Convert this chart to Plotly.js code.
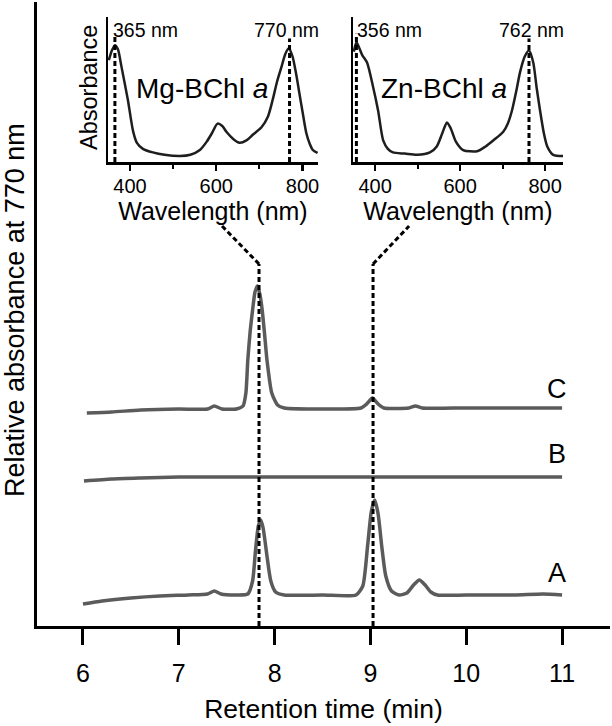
<!DOCTYPE html>
<html>
<head>
<meta charset="utf-8">
<script src="https://cdn.plot.ly/plotly-3.0.1.min.js"></script>
<style>html,body{margin:0;padding:0;background:#fff}#chart{width:612px;height:726px}</style>
</head>
<body>
<div id="chart"></div>
<script>
// ---------- Data ----------
// Chromatograms, retention time (min) vs relative absorbance at 770 nm (arbitrary units)
const timeA = [6.0, 6.2, 6.5, 6.8, 7.1, 7.3, 7.37, 7.44, 7.6, 7.72, 7.77, 7.80, 7.83, 7.855, 7.88, 7.92, 7.96, 8.01, 8.1, 8.5, 8.85, 8.92, 8.97, 9.01, 9.045, 9.08, 9.12, 9.16, 9.22, 9.3, 9.38, 9.45, 9.51, 9.57, 9.63, 9.7, 10.0, 10.5, 10.8, 11.0];
const absA  = [22, 25, 28, 30, 31, 32, 35, 32, 31, 32, 45, 75, 100, 106, 98, 70, 45, 34, 31, 31, 31, 40, 80, 115, 126, 112, 78, 50, 35, 31, 33, 41, 46, 41, 34, 31, 31, 31, 32, 31];

const timeB = [6.01, 6.3, 6.6, 7.0, 7.5, 8.0, 8.5, 9.0, 9.5, 10.0, 10.5, 11.0];
const absB  = [145, 147, 148, 149, 149, 149, 149, 149, 149, 149, 149, 149];

const timeC = [6.04, 6.3, 6.6, 7.0, 7.3, 7.37, 7.45, 7.6, 7.67, 7.70, 7.72, 7.745, 7.77, 7.795, 7.82, 7.845, 7.87, 7.895, 7.92, 7.97, 8.03, 8.1, 8.5, 8.9, 8.96, 9.02, 9.08, 9.14, 9.4, 9.47, 9.54, 10.0, 10.5, 11.0];
const absC  = [213, 214, 216, 217, 217, 220, 217, 217, 220, 233, 266, 295, 316, 334, 340, 332, 316, 292, 266, 233, 221, 218, 217, 218, 222, 228, 222, 218, 218, 220, 218, 218, 218, 218];

const traceLabels = ["A", "B", "C"];
const timeTicks = [6, 7, 8, 9, 10, 11];

// Peak retention times of Mg-BChl a and Zn-BChl a (dotted guide lines)
const peakTimes = [7.837, 9.027];

// Absorption spectra (wavelength nm vs normalised absorbance)
const wlMg  = [351, 358, 365, 372, 380, 395, 407, 416, 430, 453, 480, 516, 540, 562, 578, 590, 603, 614, 624, 640, 654, 670, 684, 705, 720, 731, 741, 751, 760, 768, 777, 785, 793, 801, 809, 817, 824, 835];
const absMg = [0.85, 0.93, 0.975, 0.94, 0.80, 0.52, 0.26, 0.16, 0.11, 0.08, 0.06, 0.05, 0.06, 0.10, 0.17, 0.24, 0.32, 0.30, 0.25, 0.19, 0.16, 0.18, 0.225, 0.29, 0.38, 0.52, 0.67, 0.79, 0.90, 0.95, 0.88, 0.74, 0.57, 0.40, 0.24, 0.15, 0.10, 0.075];

const wlZn  = [350, 356, 363, 370, 381, 395, 407, 419, 430, 442, 470, 499, 529, 545, 558, 569, 578, 590, 607, 640, 660, 678, 701, 712, 722, 732, 741, 752, 762, 772, 780, 788, 797, 805, 819, 842];
const absZn = [0.92, 1.0, 0.95, 0.89, 0.83, 0.63, 0.43, 0.18, 0.11, 0.08, 0.07, 0.06, 0.08, 0.13, 0.24, 0.33, 0.28, 0.17, 0.10, 0.09, 0.13, 0.18, 0.25, 0.32, 0.43, 0.59, 0.75, 0.88, 0.93, 0.83, 0.62, 0.43, 0.24, 0.13, 0.06, 0.05];

const mgPeaks = [365, 770];
const znPeaks = [356, 762];
const wlTicks = [400, 600, 800];

// ---------- Layout helpers ----------
const W = 612, H = 726;
const PX = x => x / W;
const PY = y => 1 - y / H;
const FONT = "Liberation Sans, Arial, Helvetica, sans-serif";

const mainLine = {color: "#5b5b5b", width: 3.5, shape: "spline", smoothing: 0.6};
const specLine = {color: "#1e1e1e", width: 2.5, shape: "spline", smoothing: 0.7};

const traces = [
  {x: timeA, y: absA, mode: "lines", line: mainLine, xaxis: "x", yaxis: "y", hoverinfo: "skip"},
  {x: timeB, y: absB, mode: "lines", line: mainLine, xaxis: "x", yaxis: "y", hoverinfo: "skip"},
  {x: timeC, y: absC, mode: "lines", line: mainLine, xaxis: "x", yaxis: "y", hoverinfo: "skip"},
  {x: wlMg, y: absMg, mode: "lines", line: specLine, xaxis: "x2", yaxis: "y2", hoverinfo: "skip"},
  {x: wlZn, y: absZn, mode: "lines", line: specLine, xaxis: "x3", yaxis: "y3", hoverinfo: "skip"}
];

const dotted = {color: "#000", width: 3, dash: "5px,3px"};
const shapes = [];
// main guide lines: vertical at the peak times and slanted connectors to the insets
const bendV = 362, topV = 400;
const slantTopT = [7.451, 9.403];
peakTimes.forEach((t, i) => {
  shapes.push({type: "line", xref: "x", yref: "y", x0: t, x1: t, y0: 0, y1: bendV, line: dotted});
  shapes.push({type: "line", xref: "x", yref: "y", x0: t, x1: slantTopT[i], y0: bendV, y1: topV, line: dotted});
});
// inset guide lines
mgPeaks.forEach((w, i) => shapes.push({type: "line", xref: "x2", yref: "y2", x0: w, x1: w, y0: 0, y1: i === 0 ? 1.07 : 1.03, line: dotted}));
znPeaks.forEach((w, i) => shapes.push({type: "line", xref: "x3", yref: "y3", x0: w, x1: w, y0: 0, y1: i === 0 ? 1.07 : 1.03, line: dotted}));

const labelY = [53, 172, 237];
const annotations = [];
traceLabels.forEach((lab, i) => annotations.push({
  x: 10.95, y: labelY[i], xref: "x", yref: "y", text: lab, showarrow: false,
  font: {size: 27, color: "#000", family: FONT}, xanchor: "center", yanchor: "middle"
}));
const peakLabel = (txt, xp, yp) => ({x: PX(xp), y: PY(yp), xref: "paper", yref: "paper", text: txt, showarrow: false,
  font: {size: 19.5, color: "#000", family: FONT}, xanchor: "center", yanchor: "middle"});
annotations.push(peakLabel(mgPeaks[0] + " nm", 145, 30));
annotations.push(peakLabel(mgPeaks[1] + " nm", 286, 30));
annotations.push(peakLabel(znPeaks[0] + " nm", 389, 30));
annotations.push(peakLabel(znPeaks[1] + " nm", 531, 30));
annotations.push({x: PX(202), y: PY(88), xref: "paper", yref: "paper", text: "Mg-BChl <i>a</i>", showarrow: false,
  font: {size: 28, color: "#000", family: FONT}, xanchor: "center", yanchor: "middle"});
annotations.push({x: PX(444), y: PY(88), xref: "paper", yref: "paper", text: "Zn-BChl <i>a</i>", showarrow: false,
  font: {size: 28, color: "#000", family: FONT}, xanchor: "center", yanchor: "middle"});
annotations.push({x: PX(15), y: PY(310), xref: "paper", yref: "paper", text: "Relative absorbance at 770 nm", showarrow: false,
  textangle: -90, font: {size: 27, color: "#000", family: FONT}, xanchor: "center", yanchor: "middle", borderpad: 0});
annotations.push({x: PX(89), y: PY(88), xref: "paper", yref: "paper", text: "Absorbance", showarrow: false,
  textangle: -90, font: {size: 23.5, color: "#000", family: FONT}, xanchor: "center", yanchor: "middle"});

const insetX = (dom, range) => ({
  domain: dom, range: range, showline: true, linecolor: "#000", linewidth: 2.5, mirror: false,
  ticks: "outside", ticklen: 6, tickwidth: 2.5, tickcolor: "#000",
  tickmode: "array", tickvals: wlTicks, ticktext: wlTicks.map(String),
  minor: {tickmode: "linear", tick0: 0, dtick: 100, ticks: "outside", ticklen: 4, tickwidth: 2, tickcolor: "#000"},
  tickfont: {size: 20, color: "#000", family: FONT}, ticklabelstandoff: -2,
  title: {text: "Wavelength (nm)", font: {size: 25, color: "#000", family: FONT}, standoff: 0},
  showgrid: false, zeroline: false, fixedrange: true, automargin: false
});
const insetY = dom => ({
  domain: dom, range: [0, 1.21], showline: true, linecolor: "#000", linewidth: 2.5,
  ticks: "", showticklabels: false, showgrid: false, zeroline: false, fixedrange: true
});

const layout = {
  width: W, height: H,
  margin: {l: 0, r: 0, t: 0, b: 0},
  paper_bgcolor: "#fff", plot_bgcolor: "rgba(0,0,0,0)",
  showlegend: false,
  font: {family: FONT, color: "#000"},
  xaxis: {
    domain: [PX(37), PX(610)], range: [5.52, 11.5],
    showline: true, linecolor: "#000", linewidth: 3,
    ticks: "outside", ticklen: 16, tickwidth: 3, tickcolor: "#000",
    tickmode: "array", tickvals: timeTicks, ticktext: timeTicks.map(String),
    tickfont: {size: 25, color: "#000", family: FONT}, ticklabelstandoff: 7,
    title: {text: "Retention time (min)", font: {size: 26.5, color: "#000", family: FONT}, standoff: 14},
    showgrid: false, zeroline: false, fixedrange: true, automargin: false
  },
  yaxis: {
    domain: [PY(626), PY(2)], range: [0, 624],
    showline: true, linecolor: "#000", linewidth: 3,
    ticks: "", showticklabels: false, showgrid: false, zeroline: false, fixedrange: true
  },
  xaxis2: Object.assign(insetX([PX(108), PX(318)], [349, 836]), {anchor: "y2"}),
  yaxis2: Object.assign(insetY([PY(162), PY(17)]), {anchor: "x2"}),
  xaxis3: Object.assign(insetX([PX(353), PX(563)], [348, 842]), {anchor: "y3"}),
  yaxis3: Object.assign(insetY([PY(162), PY(17)]), {anchor: "x3"}),
  shapes: shapes,
  annotations: annotations
};

Plotly.newPlot("chart", traces, layout, {staticPlot: true, displayModeBar: false});
</script>
</body>
</html>
